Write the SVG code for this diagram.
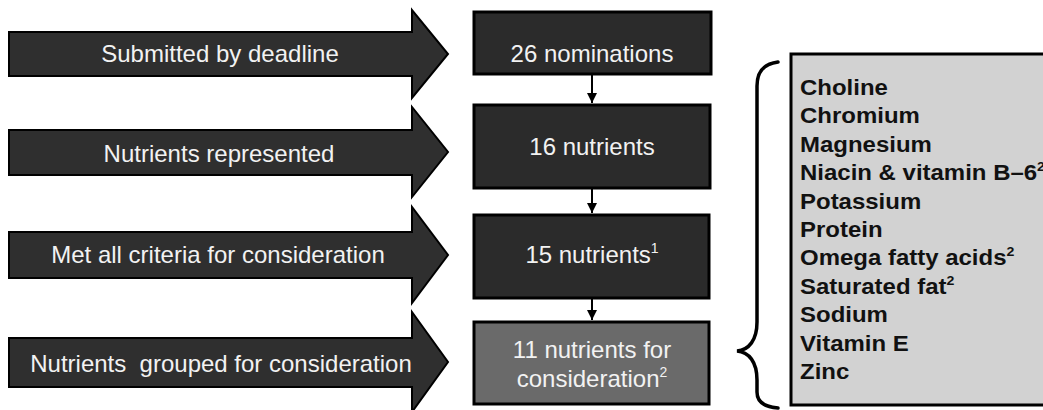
<svg xmlns="http://www.w3.org/2000/svg" width="1043" height="410" viewBox="0 0 1043 410">
<defs>
<style>
.arrow{fill:#2f2f2f;stroke:#000;stroke-width:2}
.box{fill:#2b2b2b;stroke:#000;stroke-width:3}
.box2{fill:#6a6a6a;stroke:#000;stroke-width:3}
.lbl{font-family:"Liberation Sans",Arial,sans-serif;font-size:24px;fill:#f2f2f2;text-anchor:middle}
.list{font-family:"Liberation Sans",Arial,sans-serif;font-size:22px;font-weight:bold;fill:#111}
.conn{stroke:#000;stroke-width:2;fill:none}
.brace{stroke:#000;stroke-width:3.5;fill:none;stroke-linecap:round}
</style>
<marker id="ah" viewBox="0 0 10 10" refX="10" refY="5" markerWidth="10" markerHeight="10" markerUnits="userSpaceOnUse" orient="auto">
<path d="M0,0 L10,5 L0,10 Z" fill="#000"/>
</marker>
</defs>
<rect width="1043" height="410" fill="#fff"/>

<g id="arrow1">
<path class="arrow" d="M9,32 H412 V10 L448,54 L412,98 V76 H9 Z"/>
<text class="lbl" x="220" y="62">Submitted by deadline</text>
</g>
<g id="arrow2">
<path class="arrow" d="M9,130 H412 V107 L448,152 L412,197 V175 H9 Z"/>
<text class="lbl" x="219" y="162">Nutrients represented</text>
</g>
<g id="arrow3">
<path class="arrow" d="M9,232 H412 V207 L448,255 L412,303 V278 H9 Z"/>
<text class="lbl" x="218" y="263">Met all criteria for consideration</text>
</g>
<g id="arrow4">
<path class="arrow" d="M9,338 H412 V312 L448,362 L412,412 V387 H9 Z"/>
<text class="lbl" x="221" y="372">Nutrients&#160; grouped for consideration</text>
</g>

<g id="box1">
<rect class="box" x="474" y="12" width="237" height="62"/>
<text class="lbl" x="592" y="62">26 nominations</text>
</g>
<g id="box2">
<rect class="box" x="474" y="105" width="236" height="83"/>
<text class="lbl" x="592" y="155">16 nutrients</text>
</g>
<g id="box3">
<rect class="box" x="474" y="215" width="235" height="83"/>
<text class="lbl" x="592" y="263">15 nutrients<tspan font-size="14" dy="-10">1</tspan></text>
</g>
<g id="box4">
<rect class="box2" x="474" y="322" width="235" height="82"/>
<text class="lbl" x="592" y="358">11 nutrients for</text>
<text class="lbl" x="592" y="387">consideration<tspan font-size="14" dy="-10">2</tspan></text>
</g>

<g id="connectors">
<line class="conn" x1="592" y1="75" x2="592" y2="103" marker-end="url(#ah)"/>
<line class="conn" x1="592" y1="189" x2="592" y2="213" marker-end="url(#ah)"/>
<line class="conn" x1="592" y1="299" x2="592" y2="320" marker-end="url(#ah)"/>
<path class="brace" d="M778,62 C763,64 757,72 757,86 L757,322 C757,340 749,350 737,351 C749,352 757,362 757,380 L757,392 C757,402 765,407 778,408"/>
</g>

<g id="list">
<rect x="791" y="54" width="260" height="351" fill="#d2d2d2" stroke="#000" stroke-width="3"/>
<g transform="translate(800 0) scale(1.09 1)">
<text class="list" x="0" y="95">Choline</text>
<text class="list" x="0" y="123.4">Chromium</text>
<text class="list" x="0" y="151.8">Magnesium</text>
<text class="list" x="0" y="180.2">Niacin &amp; vitamin B–6<tspan font-size="13" dy="-9">2</tspan></text>
<text class="list" x="0" y="208.6">Potassium</text>
<text class="list" x="0" y="237">Protein</text>
<text class="list" x="0" y="265.4">Omega fatty acids<tspan font-size="13" dy="-9">2</tspan></text>
<text class="list" x="0" y="293.8">Saturated fat<tspan font-size="13" dy="-9">2</tspan></text>
<text class="list" x="0" y="322.2">Sodium</text>
<text class="list" x="0" y="350.6">Vitamin E</text>
<text class="list" x="0" y="379">Zinc</text>
</g>
</g>
</svg>
